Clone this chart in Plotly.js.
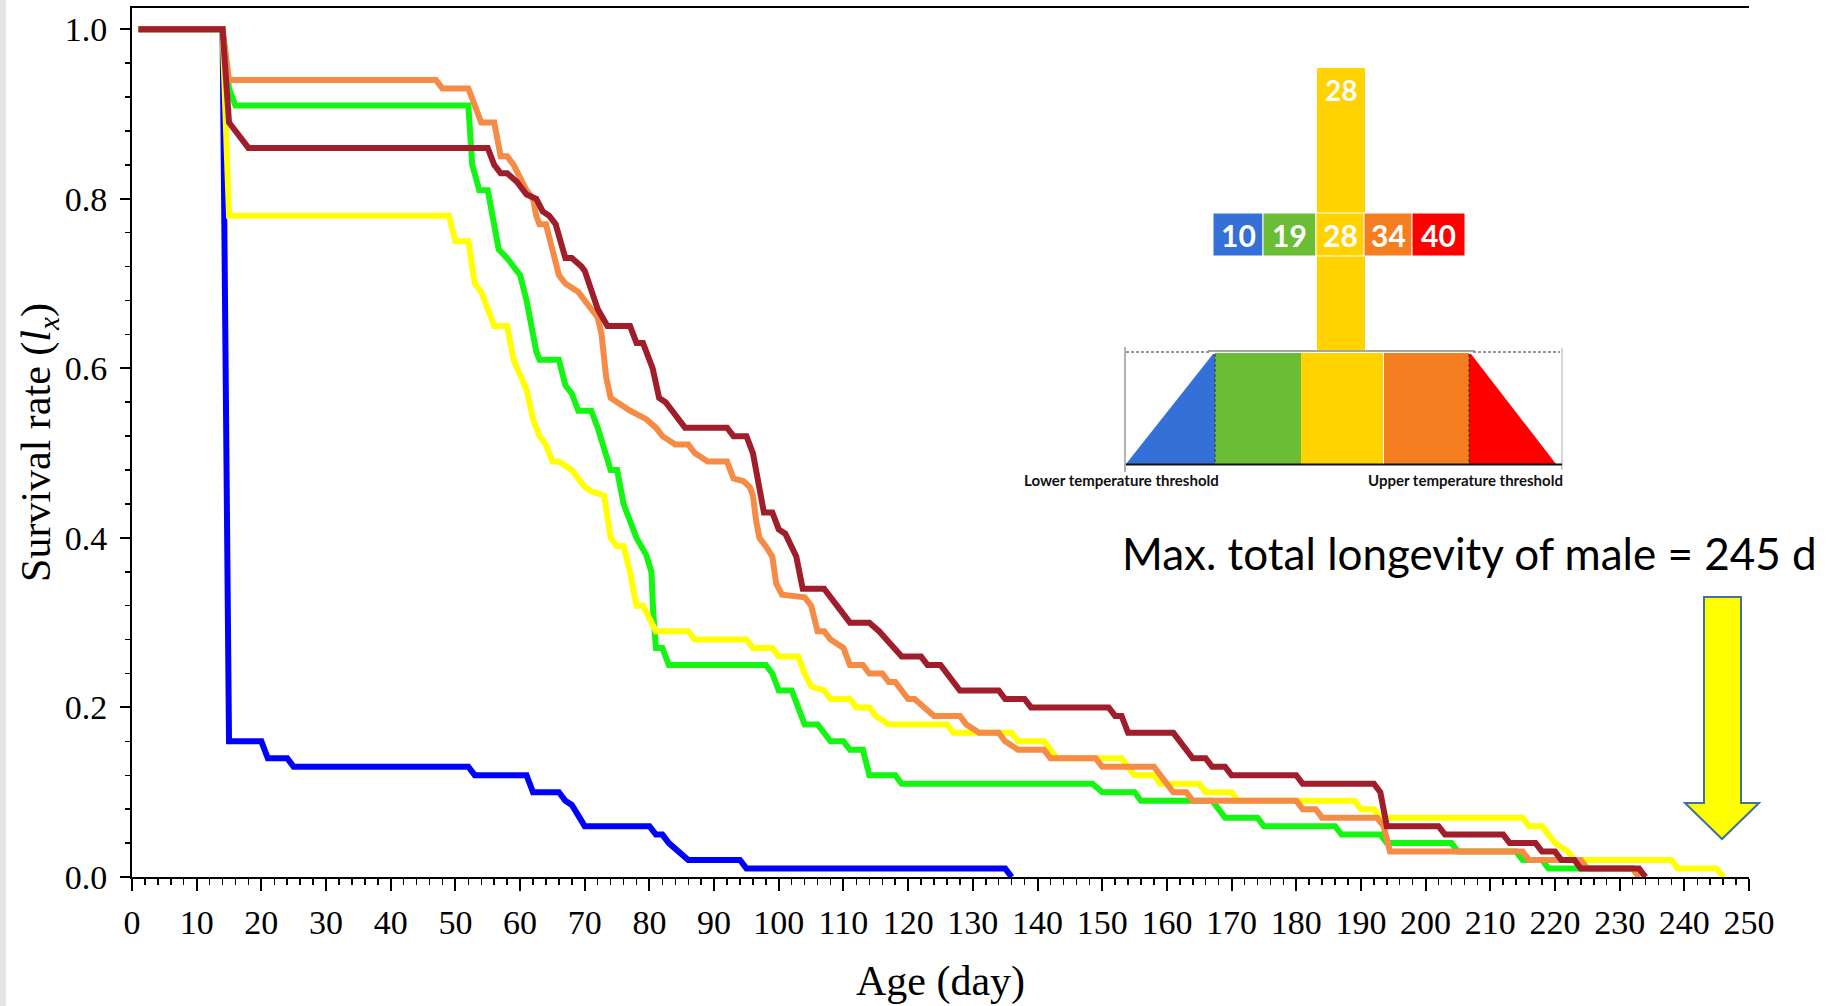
<!DOCTYPE html>
<html>
<head>
<meta charset="utf-8">
<script src="https://cdn.plot.ly/plotly-3.0.1.min.js"></script>
<style>html,body{margin:0;padding:0;background:#fff;}#chart{width:1833px;height:1006px;}</style>
</head>
<body>
<div id="chart"></div>
<script>
// ---- Data ----
const seriesNames = ['10 °C', '19 °C', '28 °C', '34 °C', '40 °C'];

const days10 = [1,14,15,20,21,24,25,52,53,61,62,66,67,68,70,80,81,82,83,86,94,95,135,136];
const lx10   = [1,1,0.16,0.16,0.14,0.14,0.13,0.13,0.12,0.12,0.10,0.10,0.09,0.085,0.06,0.06,0.05,0.05,0.04,0.02,0.02,0.01,0.01,0];

const days19 = [1,14,15,16,52,52.6,53.7,55,56.7,58,60,61,62.5,63,66,67,68,69,71,72,74,75,76,78,79.5,80.3,80.6,81,82,83,98,99,100,102,104,106,108,110,111,113,114,118,119,148.5,150,155,156,167,168,169,174,175,186,187,193,194,204,205,214,215,218,219,232,233];
const lx19   = [1,1,0.93,0.91,0.91,0.84,0.81,0.81,0.74,0.73,0.71,0.68,0.62,0.61,0.61,0.58,0.57,0.55,0.55,0.53,0.48,0.48,0.44,0.40,0.38,0.36,0.31,0.27,0.27,0.25,0.25,0.24,0.22,0.22,0.18,0.18,0.16,0.16,0.15,0.15,0.12,0.12,0.11,0.11,0.10,0.10,0.09,0.09,0.08,0.07,0.07,0.06,0.06,0.05,0.05,0.04,0.04,0.03,0.03,0.02,0.02,0.01,0.01,0];

const days28 = [1,14,15,49,50,52,53,54,56,58,59,61,62,63,64,65,66,68,70,71,73,74,75,76,77,78,79,81,86,87,95,96,99,100,103,104,105,107,108,111,112,114,115,117,126,127,136,137,141,142,143,153,155,158,159,165,166,170,171,189,190,192,193,215,216,218,219,220,222,223,238,239,245,246];
const lx28   = [1,1,0.78,0.78,0.75,0.75,0.70,0.69,0.65,0.65,0.61,0.575,0.54,0.52,0.51,0.49,0.49,0.48,0.46,0.455,0.45,0.40,0.39,0.39,0.36,0.32,0.32,0.29,0.29,0.28,0.28,0.27,0.27,0.26,0.26,0.24,0.225,0.22,0.21,0.21,0.20,0.20,0.19,0.18,0.18,0.17,0.17,0.16,0.16,0.15,0.14,0.14,0.12,0.12,0.11,0.11,0.10,0.10,0.09,0.09,0.08,0.08,0.07,0.07,0.06,0.06,0.05,0.04,0.03,0.02,0.02,0.01,0.01,0];

const days34 = [1,14,15,47,48,52,54,56,57,58,59,61,62,62.5,63,64,65,66,67,69,71,72,72.6,73.3,74,75,76,77,79.5,81,82,84,86,87,89,92,93,94.5,95.5,96,96.5,97,98,99,99.6,100.5,104,105,106,107,108,109,110,111,113,114,116,117,118,120,121,124,128,129,131,134,135,137,141,142,149,150,158,159,161,163,164,180,181,183,184,192.5,193.5,194.5,215,216,224,225,232,233];
const lx34   = [1,1,0.94,0.94,0.93,0.93,0.89,0.89,0.85,0.85,0.84,0.81,0.80,0.78,0.77,0.77,0.74,0.71,0.70,0.69,0.67,0.66,0.64,0.59,0.565,0.56,0.555,0.55,0.54,0.53,0.52,0.51,0.51,0.50,0.49,0.49,0.47,0.467,0.46,0.45,0.42,0.40,0.39,0.378,0.346,0.333,0.33,0.32,0.29,0.29,0.28,0.275,0.27,0.25,0.25,0.24,0.24,0.23,0.23,0.21,0.21,0.19,0.19,0.18,0.17,0.17,0.16,0.15,0.15,0.14,0.14,0.13,0.13,0.12,0.10,0.10,0.09,0.09,0.08,0.08,0.07,0.07,0.06,0.03,0.03,0.02,0.02,0.01,0.01,0];

const days40 = [1,14,15,18,55,56,57,58,59.5,61,62.5,63.5,64.5,65.5,67,68,69.5,70,72,73.5,77,78,79,80.5,81.5,82.5,85.5,92,93,95,96,97,97.7,99,100,101,102.7,103.7,107,111,114,115.5,119,122,123,125,128,134,135,138,139,151,152,153,154,161,164,166,167,169,170,180,181,192,193,194,202,203,212,213,217,218,220,221,223,224,233,234];
const lx40   = [1,1,0.89,0.86,0.86,0.84,0.83,0.83,0.82,0.805,0.80,0.785,0.78,0.77,0.73,0.73,0.72,0.715,0.67,0.65,0.65,0.63,0.63,0.60,0.565,0.56,0.53,0.53,0.52,0.52,0.50,0.46,0.43,0.43,0.41,0.405,0.378,0.34,0.34,0.30,0.30,0.29,0.26,0.26,0.25,0.25,0.22,0.22,0.21,0.21,0.20,0.20,0.19,0.19,0.17,0.17,0.14,0.14,0.13,0.13,0.12,0.12,0.11,0.11,0.10,0.06,0.06,0.05,0.05,0.04,0.04,0.03,0.03,0.02,0.02,0.01,0.01,0];

const tempLabels = ['10', '19', '28', '34', '40'];
const optimumLabel = '28';
const noteText = 'Max. total longevity of male = 245 d';
const lowerLabel = 'Lower temperature threshold';
const upperLabel = 'Upper temperature threshold';

// ---- Styles ----
const lineColors = ['#0000FF', '#14F514', '#FFFF00', '#F58B45', '#A01D2B'];
const cellColors = ['#3570D8', '#6ABD35', '#FFD200', '#F47E20', '#FF0000'];

const series = [[days10, lx10], [days19, lx19], [days28, lx28], [days34, lx34], [days40, lx40]];
const traces = series.map((s, i) => ({
  x: s[0], y: s[1], type: 'scatter', mode: 'lines', name: seriesNames[i],
  line: {color: lineColors[i], width: 6, shape: 'linear'}, showlegend: false, hoverinfo: 'x+y'
}));

// pixel -> paper helpers for the decorative inset
const L = 132, R = 1749, T = 8, B = 877;
const fx = x => (x - L) / (R - L);
const fy = y => (B - y) / (B - T);
const rect = (x0, y0, x1, y1, fill, line) => ({type: 'rect', xref: 'paper', yref: 'paper',
  x0: fx(x0), x1: fx(x1), y0: fy(y1), y1: fy(y0), fillcolor: fill, line: line || {width: 0}, layer: 'above'});
const path = (pts, fill, line) => ({type: 'path', xref: 'paper', yref: 'paper',
  path: 'M ' + pts.map(p => fx(p[0]) + ',' + fy(p[1])).join(' L ') + ' Z',
  fillcolor: fill, line: line || {width: 0}, layer: 'above'});
const seg = (x0, y0, x1, y1, line) => ({type: 'line', xref: 'paper', yref: 'paper',
  x0: fx(x0), x1: fx(x1), y0: fy(y0), y1: fy(y1), line: line, layer: 'above'});

const shapes = [];
// light gray strip at the left edge of the picture
shapes.push(rect(0, 0, 6, 1006, '#E4E4E4'));
// tall optimum bar
shapes.push(rect(1317, 68, 1365, 350, cellColors[2]));
// row of temperature cells
const cellX = [1213, 1263, 1316, 1364, 1412, 1465];
for (let i = 0; i < 5; i++) {
  shapes.push(rect(cellX[i], 213, cellX[i + 1], 256, cellColors[i], {color: '#FFFFFF', width: 1}));
}
// trapezoid diagram
shapes.push(path([[1126, 464], [1213, 354], [1215, 354], [1215, 464]], cellColors[0]));
shapes.push(rect(1215, 353, 1301, 464, cellColors[1]));
shapes.push(rect(1301, 353, 1383, 464, cellColors[2]));
shapes.push(rect(1384, 353, 1469, 464, cellColors[3]));
shapes.push(path([[1469, 354], [1471, 354], [1556, 464], [1469, 464]], cellColors[4]));
shapes.push(seg(1125, 347, 1125, 472, {color: '#666', width: 1}));
shapes.push(seg(1562, 348, 1562, 470, {color: '#AAA', width: 1}));
shapes.push(seg(1126, 352, 1211, 352, {color: '#333', width: 1, dash: '3px,2px'}));
shapes.push(seg(1473, 352, 1560, 352, {color: '#333', width: 1, dash: '3px,2px'}));
shapes.push(seg(1208, 351, 1475, 351, {color: '#888', width: 1.5}));
shapes.push(seg(1215, 354, 1215, 463, {color: '#333', width: 1, dash: '3px,2px'}));
shapes.push(seg(1469, 354, 1469, 463, {color: '#333', width: 1, dash: '3px,2px'}));
shapes.push(seg(1126, 464.5, 1562, 464.5, {color: '#111', width: 2}));
// yellow arrow
shapes.push(path([[1704, 597], [1741, 597], [1741, 803], [1759, 803], [1722, 839], [1685, 803], [1704, 803]],
  '#FFFF00', {color: '#41719C', width: 2}));

const annotations = [];
const numFont = {family: 'Lato, "Open Sans", sans-serif', size: 30, color: '#FFFFFF', weight: 'bold'};
for (let i = 0; i < 5; i++) {
  annotations.push({xref: 'paper', yref: 'paper', x: fx((cellX[i] + cellX[i + 1]) / 2), y: fy(235),
    text: '<b>' + tempLabels[i] + '</b>', showarrow: false, xanchor: 'center', yanchor: 'middle', font: numFont});
}
annotations.push({xref: 'paper', yref: 'paper', x: fx(1341), y: fy(90), text: '<b>' + optimumLabel + '</b>',
  showarrow: false, xanchor: 'center', yanchor: 'middle', font: Object.assign({}, numFont, {size: 28})});
const thrFont = {family: 'Lato, "Open Sans", sans-serif', size: 15, color: '#111'};
annotations.push({xref: 'paper', yref: 'paper', x: fx(1121), y: fy(480), text: '<b>' + lowerLabel + '</b>',
  showarrow: false, xanchor: 'center', yanchor: 'middle', font: thrFont});
annotations.push({xref: 'paper', yref: 'paper', x: fx(1465), y: fy(480), text: '<b>' + upperLabel + '</b>',
  showarrow: false, xanchor: 'center', yanchor: 'middle', font: thrFont});
annotations.push({xref: 'paper', yref: 'paper', x: fx(1469), y: fy(553), text: noteText,
  showarrow: false, xanchor: 'center', yanchor: 'middle',
  font: {family: 'Lato, "Open Sans", sans-serif', size: 44, color: '#000'}});

const serif = 'Liberation Serif, "Times New Roman", serif';
const layout = {
  width: 1833, height: 1006,
  margin: {l: L, r: 1833 - R, t: T, b: 1006 - B},
  paper_bgcolor: '#FFFFFF', plot_bgcolor: '#FFFFFF',
  showlegend: false,
  xaxis: {
    range: [0, 250], tick0: 0, dtick: 10, ticks: 'outside', ticklen: 12, tickwidth: 2, tickcolor: '#000',
    minor: {dtick: 2, ticks: 'outside', ticklen: 6, tickwidth: 1.5, tickcolor: '#000', showgrid: false},
    showline: true, linecolor: '#000', linewidth: 2, mirror: true, showgrid: false, zeroline: false,
    tickfont: {family: serif, size: 34, color: '#000'}, ticklabelstandoff: 2,
    title: {text: 'Age (day)', font: {family: serif, size: 42, color: '#000'}, standoff: 26}
  },
  yaxis: {
    range: [0, 1.025], tick0: 0, dtick: 0.2, tickformat: '.1f', ticks: 'outside', ticklen: 10, tickwidth: 2, tickcolor: '#000',
    minor: {dtick: 0.04, ticks: 'outside', ticklen: 5, tickwidth: 1.5, tickcolor: '#000', showgrid: false},
    showline: true, linecolor: '#000', linewidth: 2, showgrid: false, zeroline: false,
    tickfont: {family: serif, size: 34, color: '#000'}, ticklabelstandoff: 6,
    title: {text: 'Survival rate (<i>l</i><sub><i>x</i></sub>)', font: {family: serif, size: 42, color: '#000'}, standoff: 1}
  },
  shapes: shapes,
  annotations: annotations
};

Plotly.newPlot('chart', traces, layout, {displayModeBar: false, staticPlot: true});
</script>
</body>
</html>
